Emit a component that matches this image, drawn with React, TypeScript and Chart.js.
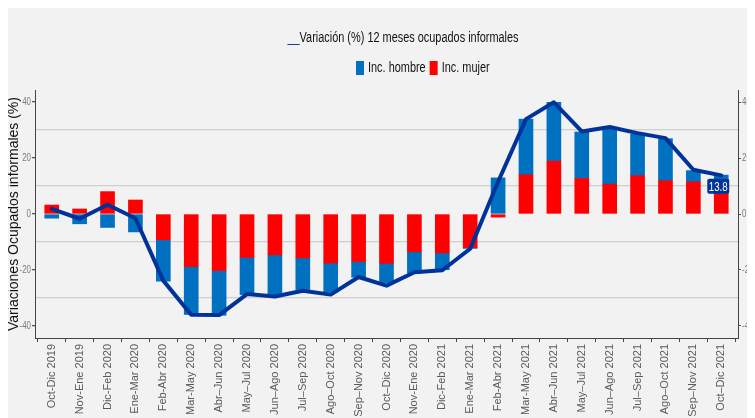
import React, { useEffect, useRef } from 'react';
import { Chart, registerables } from 'chart.js';

Chart.register(...registerables);

const categories = [
  'Oct-Dic 2019', 'Nov-Ene 2019', 'Dic-Feb 2020', 'Ene-Mar 2020', 'Feb-Abr 2020',
  'Mar-May 2020', 'Abr–Jun 2020', 'May–Jul 2020', 'Jun–Ago 2020', 'Jul–Sep 2020',
  'Ago–Oct 2020', 'Sep–Nov 2020', 'Oct–Dic 2020', 'Nov-Ene 2020', 'Dic-Feb 2021',
  'Ene-Mar 2021', 'Feb-Abr 2021', 'Mar-May 2021', 'Abr–Jun 2021', 'May–Jul 2021',
  'Jun–Ago 2021', 'Jul–Sep 2021', 'Ago–Oct 2021', 'Sep–Nov 2021', 'Oct–Dic 2021',
];

const incHombre = [
  -1.5, -3.5, -4.8, -6.4, -14.8, -17.1, -16.0, -13.3, -14.2, -11.3, -10.5, -5.6, -7.0,
  -7.6, -6.0, -0.3, 12.9, 19.9, 21.0, 16.6, 19.7, 14.9, 15.0, 4.0, 6.7,
];

const incMujer = [
  3.2, 1.8, 8.0, 5.0, -9.2, -18.8, -20.2, -15.5, -14.6, -15.7, -17.5, -17.0, -17.6,
  -13.5, -13.9, -12.0, -1.1, 14.0, 18.9, 12.7, 10.7, 13.7, 11.9, 11.5, 7.2,
];

const variacion = [
  1.8, -1.7, 3.3, -1.5, -23.8, -36.0, -36.1, -28.6, -29.5, -27.4, -28.8, -22.5, -25.6,
  -20.8, -20.1, -12.4, 11.5, 33.9, 39.9, 29.5, 31.1, 28.9, 27.1, 15.8, 13.8,
];

const yTickValues = [-40, -30, -20, -10, 0, 10, 20, 30, 40];
const yLabeledTicks = [-40, -20, 0, 20, 40];
const yGridTicks = [-30, -10, 10, 30];

const titleText = 'Variación (%) 12 meses ocupados informales';
const titleMarker = '__';
const legendItems = [
  { label: 'Inc. hombre', color: '#0070C0' },
  { label: 'Inc. mujer', color: '#FF0000' },
];
const leftTitle = 'Variaciones Ocupados informales (%)';
const rightTitle = 'Incidencias (pp.)';

const LINE_COLOR = '#003399';
const SANS = "'Liberation Sans', Arial, sans-serif";
const NARROW_X = 0.78;

function narrowText(ctx: CanvasRenderingContext2D, text: string, x: number, y: number, align: CanvasTextAlign, sx: number) {
  ctx.save();
  ctx.translate(x, y);
  ctx.scale(sx, 1);
  ctx.textAlign = align;
  ctx.fillText(text, 0, 0);
  ctx.restore();
}

export default function App() {
  const ref = useRef<HTMLCanvasElement>(null);

  useEffect(() => {
    const canvas = ref.current;
    if (!canvas) return;

    const bgPlugin = {
      id: 'bg',
      beforeDraw(chart: any) {
        const ctx = chart.ctx;
        ctx.save();
        ctx.fillStyle = '#f2f2f2';
        ctx.fillRect(0, 0, chart.width, chart.height);
        ctx.restore();
      },
    };

    const decorPlugin = {
      id: 'decor',
      afterDraw(chart: any) {
        const ctx: CanvasRenderingContext2D = chart.ctx;
        const area = chart.chartArea;
        ctx.save();
        // title
        ctx.font = `14px ${SANS}`;
        ctx.textBaseline = 'middle';
        const wm = ctx.measureText(titleMarker).width * NARROW_X;
        const wt = ctx.measureText(titleText).width * NARROW_X;
        const tx = 395 - (wm + wt) / 2;
        ctx.fillStyle = LINE_COLOR;
        narrowText(ctx, titleMarker, tx, 30, 'left', NARROW_X);
        ctx.fillStyle = '#111111';
        narrowText(ctx, titleText, tx + wm, 30, 'left', NARROW_X);

        // legend
        let lx = 348;
        for (const it of legendItems) {
          ctx.fillStyle = it.color;
          ctx.fillRect(lx, 53, 8, 14);
          lx += 12;
          ctx.fillStyle = '#111111';
          narrowText(ctx, it.label, lx, 60, 'left', NARROW_X);
          lx += ctx.measureText(it.label).width * NARROW_X + 4;
        }

        // y tick labels (both sides)
        const ys = chart.scales.y;
        ctx.font = `11px ${SANS}`;
        ctx.fillStyle = '#7a7a7a';
        ctx.textBaseline = 'middle';
        for (const v of yLabeledTicks) {
          const py = ys.getPixelForValue(v);
          narrowText(ctx, String(v), area.left - 4, py, 'right', 0.72);
          narrowText(ctx, String(v), area.right + 4, py, 'left', 0.72);
        }

        // right axis title (clipped by page edge)
        ctx.font = `13px ${SANS}`;
        ctx.fillStyle = '#111111';
        ctx.translate(748, 184);
        ctx.rotate(Math.PI / 2);
        ctx.textAlign = 'center';
        ctx.fillText(rightTitle, 0, 0);
        ctx.restore();

        // value label on last point
        const meta = chart.getDatasetMeta(0);
        const last = meta.data[meta.data.length - 1];
        if (last) {
          const v = variacion[variacion.length - 1].toFixed(1);
          ctx.save();
          ctx.font = `13px ${SANS}`;
          const w = ctx.measureText(v).width * 0.75 + 3;
          const h = 15;
          const cx = last.x - 3;
          const cy = last.y + 11;
          ctx.fillStyle = LINE_COLOR;
          ctx.beginPath();
          if ((ctx as any).roundRect) {
            (ctx as any).roundRect(cx - w / 2, cy - h / 2, w, h, 2);
          } else {
            ctx.rect(cx - w / 2, cy - h / 2, w, h);
          }
          ctx.fill();
          ctx.fillStyle = '#ffffff';
          ctx.textBaseline = 'middle';
          narrowText(ctx, v, cx, cy + 1, 'center', 0.75);
          ctx.restore();
        }
      },
    };

    const chart = new Chart(canvas, {
      type: 'bar',
      data: {
        datasets: [
          {
            type: 'line',
            label: 'Variación',
            data: variacion.map((y, i) => ({ x: i, y })),
            borderColor: LINE_COLOR,
            backgroundColor: LINE_COLOR,
            borderWidth: 4,
            pointRadius: 0,
            tension: 0,
            borderJoinStyle: 'round',
            borderCapStyle: 'round',
            stack: 'line',
            order: 0,
            yAxisID: 'y',
            xAxisID: 'x',
          } as any,
          {
            type: 'bar',
            label: 'Inc. mujer',
            data: incMujer.map((y, i) => ({ x: i, y })),
            backgroundColor: '#FF0000',
            barThickness: 14,
            stack: 'bars',
            order: 1,
            yAxisID: 'y',
            xAxisID: 'x',
          },
          {
            type: 'bar',
            label: 'Inc. hombre',
            data: incHombre.map((y, i) => ({ x: i, y })),
            backgroundColor: '#0070C0',
            barThickness: 14,
            stack: 'bars',
            order: 1,
            yAxisID: 'y',
            xAxisID: 'x',
          },
        ],
      },
      options: {
        responsive: false,
        animation: false,
        devicePixelRatio: 1,
        layout: { padding: { top: 82, left: 0, right: 0, bottom: 0 } },
        plugins: {
          legend: { display: false },
          title: { display: false },
          tooltip: { enabled: false },
        },
        scales: {
          x: {
            type: 'linear',
            min: -0.6,
            max: 24.6,
            offset: false,
            stacked: true,
            afterBuildTicks: (s: any) => {
              s.ticks = categories.map((_, i) => ({ value: i }));
            },
            afterFit: (s: any) => {
              s.height = 90;
            },
            ticks: {
              autoSkip: false,
              maxRotation: 90,
              minRotation: 90,
              padding: 2,
              font: { family: SANS, size: 11 },
              color: '#5a5a5a',
              callback: (v: any) => categories[Math.round(Number(v))] ?? '',
            },
            grid: {
              drawOnChartArea: false,
              drawTicks: true,
              tickLength: 4,
              tickColor: '#444444',
            },
            border: { color: '#444444', width: 1 },
          },
          y: {
            type: 'linear',
            position: 'left',
            min: -44.3,
            max: 44.3,
            stacked: true,
            afterBuildTicks: (s: any) => {
              s.ticks = yTickValues.map((value) => ({ value }));
            },
            afterFit: (s: any) => {
              s.width = 27;
            },
            ticks: { display: false },
            grid: {
              drawTicks: true,
              tickLength: 3,
              lineWidth: 1.3,
              color: (c: any) => (yGridTicks.includes(c.tick?.value) ? '#cfcfcf' : 'rgba(0,0,0,0)'),
              tickColor: (c: any) =>
                yLabeledTicks.includes(c.tick?.value) ? '#555555' : 'rgba(0,0,0,0)',
            },
            border: { color: '#444444', width: 1 },
            title: {
              display: true,
              text: leftTitle,
              font: { family: SANS, size: 14 },
              color: '#111111',
              padding: { top: -2, bottom: 0 },
            },
          },
          y2: {
            type: 'linear',
            position: 'right',
            min: -44.3,
            max: 44.3,
            afterBuildTicks: (s: any) => {
              s.ticks = yTickValues.map((value) => ({ value }));
            },
            afterFit: (s: any) => {
              s.width = 30;
            },
            ticks: { display: false },
            grid: {
              drawOnChartArea: false,
              drawTicks: true,
              tickLength: 3,
              tickColor: (c: any) =>
                yLabeledTicks.includes(c.tick?.value) ? '#555555' : 'rgba(0,0,0,0)',
            },
            border: { color: '#444444', width: 1 },
          },
        },
      } as any,
      plugins: [bgPlugin, decorPlugin],
    });

    return () => chart.destroy();
  }, []);

  return (
    <div style={{ width: 747, height: 410, overflow: 'hidden' }}>
      <canvas ref={ref} width={760} height={420} style={{ display: 'block' }} />
    </div>
  );
}
